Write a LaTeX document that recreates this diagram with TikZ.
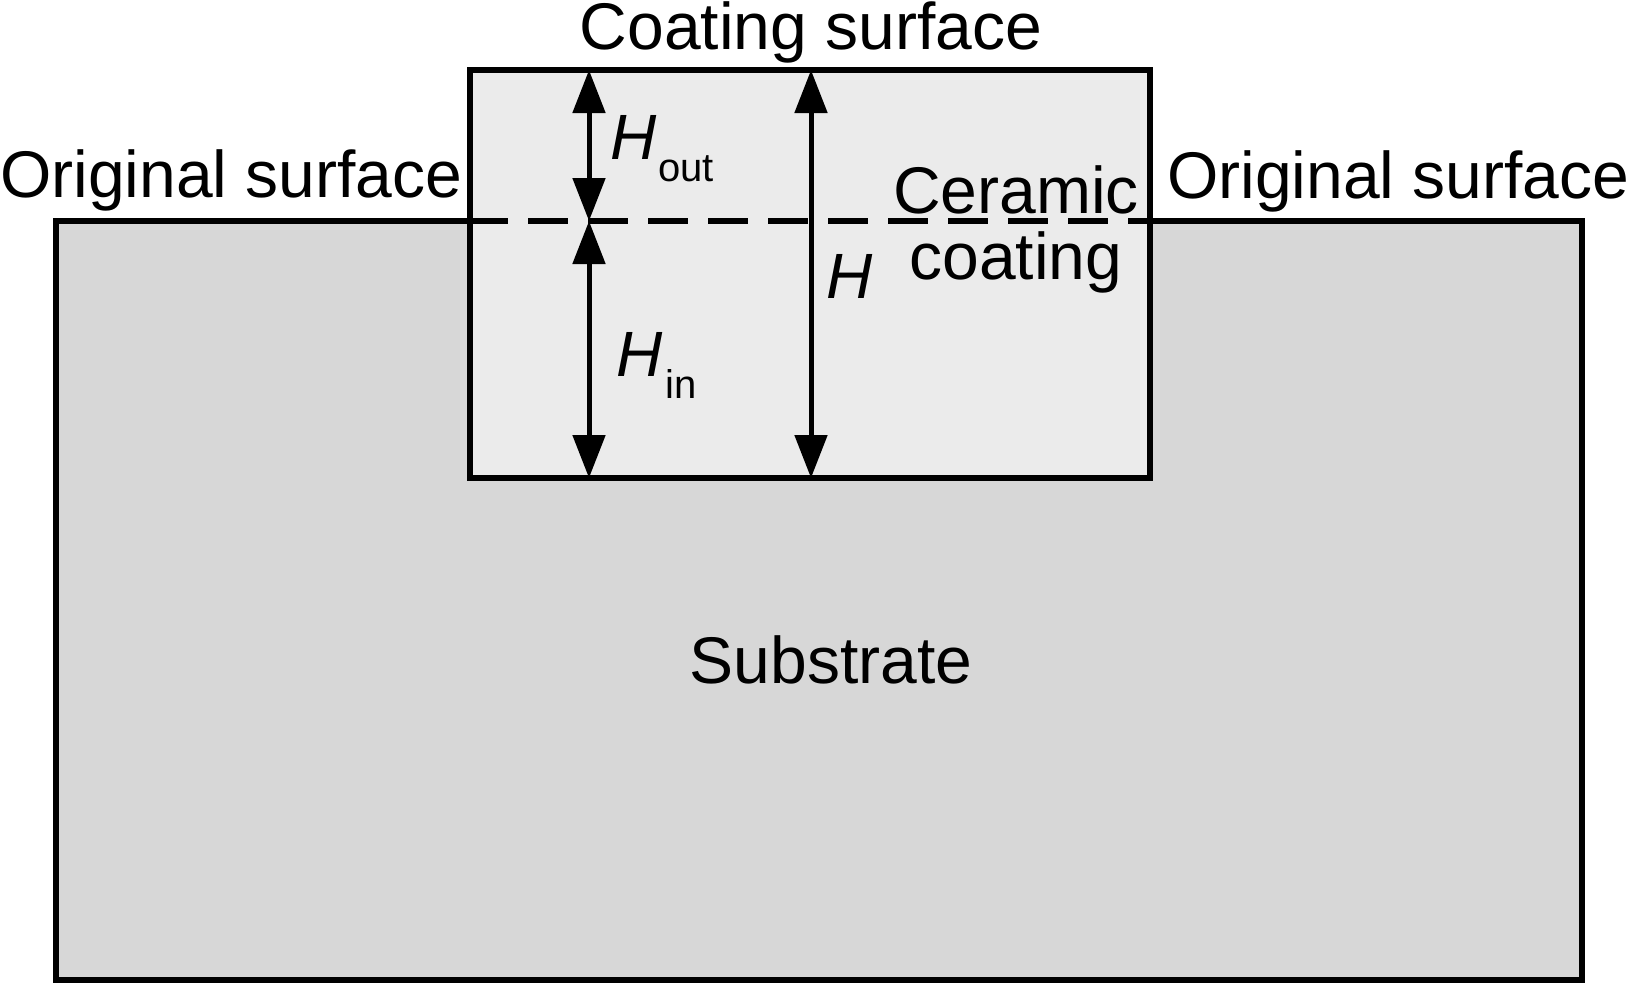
\documentclass[tikz,border=0pt]{standalone}
\usepackage{fontspec}
\setmainfont{Liberation Sans}
\usetikzlibrary{arrows.meta}
\definecolor{subgray}{HTML}{D7D7D7}
\definecolor{coatgray}{HTML}{EBEBEB}
\begin{document}
\begin{tikzpicture}[x=1pt,y=-1pt,
  lbl/.style={font=\fontsize{66}{74}\selectfont, inner sep=0pt},
  hlbl/.style={font=\fontsize{64}{72}\selectfont\itshape, inner sep=0pt},
  sublbl/.style={font=\fontsize{40}{48}\selectfont, inner sep=0pt},
  edgeline/.style={line width=6pt},
  dimline/.style={line width=5pt, {Triangle[length=43pt,width=32pt]}-{Triangle[length=43pt,width=32pt]}}]
\useasboundingbox (0,0) rectangle (1630,983);
\fill[white] (0,0) rectangle (1630,983);
% substrate
\coordinate (sTL) at (56,221);
\coordinate (sBR) at (1582,980);
\draw[edgeline, fill=subgray] (sTL) rectangle (sBR);
% coating
\coordinate (cTL) at (470,70);
\coordinate (cBR) at (1150,478);
\draw[edgeline, fill=coatgray] (cTL) rectangle (cBR);
% original surface (dashed)
\coordinate (dL) at (468,221);
\coordinate (dR) at (1150,221);
\draw[edgeline, dash pattern=on 40pt off 20pt] (dL) -- (dR);
% dimension arrows
\coordinate (a1t) at (589,70);
\coordinate (a1m) at (589,221);
\coordinate (a1b) at (589,478);
\coordinate (a2t) at (811,70);
\coordinate (a2b) at (811,478);
\draw[dimline] (a1t) -- (a1m);
\draw[dimline] (a1m) -- (a1b);
\draw[dimline] (a2t) -- (a2b);
% labels
\node[lbl, anchor=base] (ctop) at (811,49) {Coating surface};
\node[lbl, anchor=base west] (origL) at (0,197) {Original surface};
\node[lbl, anchor=base west] (origR) at (1167,198) {Original surface};
\node[lbl, anchor=base] (cer1) at (1016,213) {Ceramic};
\node[lbl, anchor=base] (cer2) at (1016,279) {coating};
\node[hlbl, anchor=base west] (hlbl) at (826,298) {H};
\node[hlbl, anchor=base west] (hout) at (610,159) {H};
\node[sublbl, anchor=base west] (houts) at (658,181) {out};
\node[hlbl, anchor=base west] (hin) at (616,376) {H};
\node[sublbl, anchor=base west] (hins) at (665,398) {in};
\node[lbl, anchor=base] (subs) at (831,683) {Substrate};
\end{tikzpicture}
\end{document}
